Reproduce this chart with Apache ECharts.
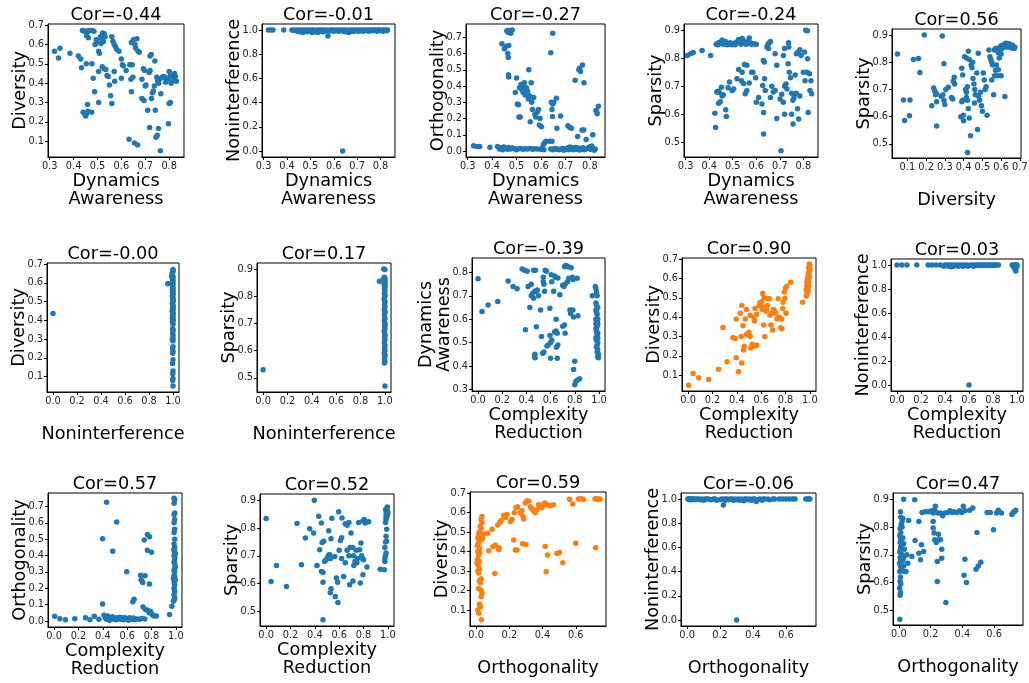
<!DOCTYPE html>
<html>
<head>
<meta charset="utf-8">
<script src="https://cdn.jsdelivr.net/npm/echarts@6/dist/echarts.min.js"></script>
<style>
  html, body { margin: 0; padding: 0; background: #fff; }
  #chart { width: 1029px; height: 683px; }
</style>
</head>
<body>
<div id="chart"></div>
<script>
// 每个子图的相关系数标题
const corLabels = [
  'Cor=-0.44', 'Cor=-0.01', 'Cor=-0.27', 'Cor=-0.24', 'Cor=0.56',
  'Cor=-0.00', 'Cor=0.17', 'Cor=-0.39', 'Cor=0.90', 'Cor=0.03',
  'Cor=0.57', 'Cor=0.52', 'Cor=0.59', 'Cor=-0.06', 'Cor=0.47'
];

const xNames = [
  'Dynamics\nAwareness', 'Dynamics\nAwareness', 'Dynamics\nAwareness', 'Dynamics\nAwareness', '\nDiversity',
  '\nNoninterference', '\nNoninterference', 'Complexity\nReduction', 'Complexity\nReduction', 'Complexity\nReduction',
  'Complexity\nReduction', 'Complexity\nReduction', '\nOrthogonality', '\nOrthogonality', '\nOrthogonality'
];
const yNames = [
  'Diversity', 'Noninterference', 'Orthogonality', 'Sparsity', 'Sparsity',
  'Diversity', 'Sparsity', 'Dynamics\nAwareness', 'Diversity', 'Noninterference',
  'Orthogonality', 'Sparsity', 'Diversity', 'Noninterference', 'Sparsity'
];

// 刻度
const ticksDA = [0.3, 0.4, 0.5, 0.6, 0.7, 0.8];
const ticksDiv = [0.1, 0.2, 0.3, 0.4, 0.5, 0.6, 0.7];
const ticksUnit = [0.0, 0.2, 0.4, 0.6, 0.8, 1.0];
const ticksOrthY = [0.0, 0.1, 0.2, 0.3, 0.4, 0.5, 0.6, 0.7];
const ticksOrthX = [0.0, 0.2, 0.4, 0.6];
const ticksSp = [0.5, 0.6, 0.7, 0.8, 0.9];

// 数据
const daDiv = [[0.32,0.565],[0.337,0.53],[0.343,0.58],[0.385,0.555],[0.42,0.54],[0.43,0.525],[0.433,0.48],[0.437,0.672],[0.445,0.668],[0.452,0.67],[0.458,0.665],[0.465,0.672],[0.455,0.645],[0.462,0.635],[0.453,0.5],[0.44,0.25],[0.447,0.24],[0.45,0.23],[0.455,0.245],[0.46,0.255],[0.452,0.235],[0.458,0.29],[0.476,0.25],[0.477,0.5],[0.482,0.425],[0.488,0.355],[0.478,0.672],[0.485,0.668],[0.49,0.6],[0.495,0.625],[0.498,0.612],[0.505,0.3],[0.505,0.46],[0.505,0.565],[0.508,0.555],[0.512,0.64],[0.518,0.63],[0.522,0.66],[0.528,0.655],[0.515,0.605],[0.525,0.615],[0.532,0.64],[0.52,0.485],[0.528,0.475],[0.535,0.47],[0.54,0.44],[0.545,0.435],[0.55,0.39],[0.555,0.335],[0.56,0.295],[0.56,0.64],[0.565,0.615],[0.57,0.6],[0.575,0.59],[0.58,0.575],[0.57,0.46],[0.572,0.41],[0.59,0.565],[0.6,0.525],[0.604,0.495],[0.608,0.49],[0.6,0.425],[0.62,0.465],[0.635,0.495],[0.645,0.495],[0.632,0.11],[0.64,0.42],[0.648,0.43],[0.642,0.355],[0.655,0.09],[0.668,0.08],[0.642,0.61],[0.65,0.625],[0.657,0.6],[0.66,0.58],[0.67,0.565],[0.675,0.56],[0.665,0.63],[0.686,0.42],[0.692,0.475],[0.697,0.465],[0.686,0.32],[0.695,0.31],[0.7,0.385],[0.703,0.39],[0.71,0.26],[0.72,0.54],[0.725,0.548],[0.72,0.465],[0.716,0.455],[0.718,0.17],[0.726,0.32],[0.73,0.35],[0.734,0.36],[0.738,0.385],[0.74,0.515],[0.742,0.26],[0.745,0.12],[0.75,0.13],[0.755,0.165],[0.763,0.05],[0.748,0.43],[0.752,0.41],[0.756,0.4],[0.76,0.42],[0.765,0.345],[0.77,0.43],[0.775,0.435],[0.782,0.43],[0.79,0.425],[0.797,0.19],[0.8,0.46],[0.805,0.44],[0.8,0.295],[0.805,0.3],[0.808,0.4],[0.813,0.41],[0.818,0.43],[0.822,0.45],[0.826,0.435],[0.83,0.41],[0.795,0.42],[0.785,0.405]];

const daNI = [[0.32,1],[0.331,1],[0.34,1],[0.386,1],[0.421,1],[0.429,0.998],[0.436,1],[0.443,0.99],[0.447,1],[0.452,0.985],[0.458,1],[0.463,0.99],[0.468,0.98],[0.472,1],[0.478,0.995],[0.483,1],[0.487,0.985],[0.493,1],[0.498,0.99],[0.503,1],[0.508,0.98],[0.512,1],[0.517,0.99],[0.523,0.985],[0.527,1],[0.532,0.98],[0.538,1],[0.542,0.99],[0.547,1],[0.553,0.985],[0.558,1],[0.562,0.99],[0.568,1],[0.575,0.95],[0.579,0.99],[0.584,1],[0.589,0.995],[0.594,1],[0.6,0.99],[0.606,1],[0.611,0.995],[0.617,1],[0.622,0.99],[0.628,1],[0.633,0.995],[0.638,0],[0.641,1],[0.646,0.985],[0.652,1],[0.657,0.99],[0.662,0.98],[0.667,1],[0.673,0.985],[0.678,1],[0.684,0.99],[0.689,1],[0.694,0.995],[0.699,1],[0.705,0.99],[0.71,1],[0.716,0.995],[0.721,1],[0.726,0.99],[0.732,1],[0.737,1],[0.742,0.995],[0.748,1],[0.753,0.99],[0.758,1],[0.764,1],[0.769,0.995],[0.774,1],[0.779,1],[0.785,0.99],[0.79,1],[0.795,1],[0.8,0.995],[0.806,1],[0.811,0.99],[0.816,1],[0.821,1],[0.826,0.995],[0.83,1]];

const daOrth = [[0.324,0.033],[0.338,0.028],[0.349,0.027],[0.391,0.023],[0.422,0.027],[0.43,0.012],[0.437,0.02],[0.443,0.008],[0.448,0.025],[0.452,0.015],[0.457,0.018],[0.463,0.01],[0.468,0.022],[0.475,0.012],[0.482,0.018],[0.49,0.015],[0.498,0.008],[0.505,0.012],[0.515,0.015],[0.525,0.01],[0.535,0.014],[0.545,0.012],[0.555,0.016],[0.565,0.01],[0.575,0.014],[0.585,0.012],[0.598,0.01],[0.605,0.018],[0.612,0.008],[0.64,0.012],[0.648,0.008],[0.655,0.015],[0.662,0.01],[0.668,0.012],[0.675,0.008],[0.682,0.012],[0.69,0.015],[0.695,0.005],[0.702,0.01],[0.708,0.018],[0.713,0.008],[0.718,0.025],[0.722,0.012],[0.728,0.02],[0.733,0.008],[0.738,0.015],[0.743,0.022],[0.748,0.01],[0.752,0.018],[0.757,0.006],[0.762,0.015],[0.767,0.01],[0.772,0.02],[0.777,0.008],[0.785,0.012],[0.792,0.018],[0.798,0.025],[0.803,0.01],[0.808,0.03],[0.812,0.015],[0.818,0.005],[0.822,0.012],
  [0.44,0.66],[0.45,0.63],[0.457,0.645],[0.46,0.74],[0.466,0.73],[0.47,0.742],[0.476,0.725],[0.482,0.745],[0.464,0.6],[0.466,0.575],[0.467,0.47],[0.468,0.455],[0.468,0.65],[0.5,0.45],[0.495,0.36],[0.503,0.29],[0.508,0.285],[0.51,0.21],[0.515,0.21],[0.512,0.39],[0.518,0.41],[0.522,0.375],[0.525,0.4],[0.527,0.36],[0.53,0.38],[0.532,0.42],[0.535,0.345],[0.54,0.39],[0.545,0.37],[0.548,0.32],[0.55,0.5],[0.553,0.34],[0.556,0.18],[0.56,0.42],[0.562,0.3],[0.565,0.255],[0.57,0.33],[0.575,0.225],[0.578,0.21],[0.585,0.24],[0.59,0.255],[0.593,0.16],[0.596,0.2],[0.602,0.15],[0.61,0.04],[0.615,0.05],[0.62,0.06],[0.635,0.06],[0.645,0.06],[0.64,0.605],[0.648,0.725],[0.642,0.3],[0.648,0.29],[0.652,0.3],[0.645,0.255],[0.647,0.213],[0.663,0.325],[0.665,0.14],[0.68,0.215],[0.71,0.155],[0.718,0.145],[0.725,0.14],[0.74,0.435],[0.75,0.09],[0.755,0.5],[0.758,0.51],[0.762,0.49],[0.77,0.53],[0.768,0.13],[0.775,0.13],[0.776,0.42],[0.785,0.07],[0.812,0.1],[0.825,0.25],[0.83,0.23],[0.835,0.275],[0.828,0.24]];

const daSp = [[0.307,0.81],[0.321,0.816],[0.332,0.82],[0.37,0.828],[0.406,0.81],
  [0.43,0.85],[0.436,0.848],[0.44,0.855],[0.445,0.852],[0.45,0.858],[0.455,0.865],[0.46,0.85],[0.465,0.855],[0.47,0.86],[0.475,0.848],[0.48,0.852],[0.485,0.85],[0.49,0.855],[0.495,0.848],[0.5,0.85],[0.505,0.853],[0.51,0.848],[0.515,0.855],[0.52,0.86],[0.525,0.867],[0.53,0.858],[0.535,0.85],[0.54,0.87],[0.545,0.862],[0.55,0.855],[0.555,0.85],[0.56,0.858],[0.565,0.852],[0.57,0.872],[0.575,0.855],[0.58,0.85],[0.59,0.852],[0.6,0.85],[0.645,0.84],[0.65,0.85],[0.655,0.855],[0.66,0.86],[0.652,0.835],
  [0.424,0.604],[0.427,0.553],[0.432,0.68],[0.438,0.682],[0.443,0.678],[0.44,0.64],[0.447,0.645],[0.455,0.665],[0.46,0.67],[0.452,0.697],[0.47,0.616],[0.473,0.592],[0.48,0.695],[0.486,0.715],[0.497,0.685],[0.504,0.69],[0.518,0.727],[0.525,0.76],[0.537,0.72],[0.54,0.75],[0.546,0.71],[0.55,0.778],[0.56,0.775],[0.553,0.673],[0.56,0.685],[0.57,0.712],[0.58,0.75],[0.585,0.75],[0.597,0.73],[0.6,0.643],[0.61,0.66],[0.627,0.703],[0.624,0.637],[0.63,0.792],[0.634,0.787],[0.631,0.607],[0.631,0.53],[0.635,0.727],[0.638,0.685],[0.66,0.66],[0.666,0.7],[0.672,0.68],[0.68,0.685],[0.687,0.775],[0.68,0.816],[0.687,0.585],[0.701,0.655],[0.708,0.672],[0.705,0.47],[0.715,0.643],[0.72,0.6],[0.72,0.7],[0.726,0.708],[0.73,0.69],[0.737,0.855],[0.738,0.84],[0.74,0.75],[0.745,0.73],[0.735,0.78],[0.75,0.675],[0.755,0.65],[0.76,0.66],[0.75,0.6],[0.756,0.566],[0.77,0.816],[0.777,0.822],[0.785,0.83],[0.79,0.81],[0.77,0.675],[0.775,0.62],[0.785,0.665],[0.78,0.583],[0.8,0.75],[0.805,0.822],[0.81,0.9],[0.817,0.898],[0.807,0.72],[0.815,0.75],[0.818,0.798],[0.826,0.745],[0.828,0.685],[0.832,0.72],[0.82,0.607],[0.835,0.673],[0.765,0.74],[0.72,0.835],[0.715,0.81]];

const divSp = [[0.047,0.83],[0.079,0.661],[0.085,0.586],[0.111,0.603],[0.114,0.661],[0.132,0.81],[0.159,0.814],[0.167,0.762],[0.19,0.9],[0.286,0.896],[0.295,0.794],[0.23,0.64],[0.24,0.705],[0.245,0.695],[0.25,0.68],[0.255,0.685],[0.256,0.566],[0.256,0.655],[0.28,0.675],[0.29,0.68],[0.295,0.66],[0.3,0.645],[0.305,0.7],[0.318,0.708],[0.335,0.67],[0.342,0.665],[0.345,0.73],[0.35,0.745],[0.352,0.72],[0.39,0.778],[0.395,0.753],[0.39,0.655],[0.395,0.66],[0.385,0.6],[0.398,0.605],[0.4,0.585],[0.405,0.82],[0.415,0.815],[0.425,0.84],[0.43,0.81],[0.41,0.7],[0.415,0.69],[0.42,0.71],[0.415,0.67],[0.42,0.66],[0.425,0.63],[0.43,0.595],[0.437,0.53],[0.421,0.468],[0.44,0.79],[0.445,0.78],[0.448,0.8],[0.45,0.74],[0.455,0.72],[0.46,0.7],[0.462,0.68],[0.458,0.65],[0.474,0.553],[0.478,0.833],[0.47,0.76],[0.48,0.675],[0.485,0.66],[0.49,0.69],[0.495,0.64],[0.5,0.62],[0.505,0.76],[0.51,0.735],[0.515,0.7],[0.52,0.71],[0.525,0.605],[0.535,0.845],[0.54,0.82],[0.545,0.81],[0.55,0.8],[0.555,0.79],[0.55,0.735],[0.56,0.68],[0.565,0.75],[0.57,0.77],[0.575,0.79],[0.58,0.75],[0.585,0.772],[0.6,0.75],[0.565,0.845],[0.57,0.85],[0.58,0.848],[0.585,0.835],[0.59,0.853],[0.595,0.845],[0.6,0.86],[0.605,0.85],[0.61,0.855],[0.615,0.865],[0.62,0.858],[0.625,0.87],[0.63,0.862],[0.635,0.855],[0.64,0.868],[0.645,0.86],[0.65,0.865],[0.655,0.852],[0.66,0.862],[0.665,0.858],[0.67,0.85],[0.673,0.855],[0.62,0.674],[0.59,0.815],[0.6,0.83]];

const niDiv = [[0,0.437],[0.955,0.595],[0.99,0.64],[0.995,0.63],[1,0.672],[0.998,0.66],[0.993,0.65],[1,0.62],[0.997,0.61],[0.99,0.6],[1,0.59],[0.995,0.58],[0.998,0.57],[1,0.56],[0.996,0.55],[1,0.54],[0.994,0.53],[1,0.52],[0.998,0.51],[1,0.5],[0.995,0.49],[1,0.48],[0.997,0.47],[1,0.46],[0.993,0.45],[1,0.44],[0.998,0.43],[1,0.42],[0.995,0.41],[1,0.4],[0.997,0.39],[1,0.38],[0.996,0.355],[1,0.345],[0.998,0.33],[1,0.32],[0.995,0.3],[1,0.29],[1,0.26],[0.997,0.25],[1,0.235],[0.998,0.225],[1,0.19],[0.996,0.17],[1,0.13],[0.998,0.115],[1,0.09],[0.997,0.08],[1,0.05],[1,0.665],[0.996,0.655],[1,0.635],[0.994,0.625],[1,0.605],[0.999,0.575],[0.995,0.565],[1,0.545],[0.997,0.525],[1,0.505],[0.996,0.495],[1,0.475],[0.998,0.455],[1,0.435],[0.997,0.415],[1,0.405],[0.996,0.395],[1,0.35],[0.999,0.305]];

const niSp = [[0,0.53],[0.955,0.855],[0.99,0.9],[1,0.898],[0.995,0.87],[1,0.865],[0.997,0.86],[1,0.85],[0.993,0.845],[1,0.84],[0.998,0.83],[1,0.82],[0.996,0.81],[1,0.8],[0.994,0.79],[1,0.78],[0.998,0.77],[1,0.76],[0.995,0.75],[1,0.74],[0.997,0.73],[1,0.72],[0.996,0.71],[1,0.7],[0.998,0.69],[1,0.68],[0.995,0.67],[1,0.66],[0.997,0.65],[1,0.64],[0.996,0.63],[1,0.62],[0.998,0.61],[1,0.6],[0.995,0.59],[1,0.58],[0.997,0.57],[1,0.56],[0.996,0.555],[1,0.47],[0.99,0.855],[0.985,0.86],[1,0.855],[0.998,0.848],[1,0.835],[0.996,0.825],[1,0.805],[0.997,0.785],[1,0.745],[0.998,0.715],[1,0.695],[0.996,0.675],[1,0.655],[0.997,0.605],[1,0.585]];

const crDA = [[0,0.773],[0.033,0.633],[0.083,0.661],[0.163,0.676],[0.249,0.764],[0.29,0.74],[0.323,0.73],[0.365,0.815],[0.385,0.81],[0.406,0.805],[0.392,0.555],[0.414,0.74],[0.428,0.65],[0.44,0.75],[0.44,0.7],[0.452,0.71],[0.46,0.69],[0.46,0.81],[0.475,0.81],[0.467,0.44],[0.47,0.45],[0.472,0.435],[0.483,0.568],[0.48,0.72],[0.49,0.725],[0.5,0.7],[0.47,0.72],[0.517,0.64],[0.525,0.526],[0.54,0.78],[0.545,0.75],[0.54,0.76],[0.535,0.455],[0.545,0.46],[0.555,0.81],[0.565,0.805],[0.55,0.72],[0.57,0.485],[0.58,0.49],[0.595,0.53],[0.6,0.5],[0.61,0.51],[0.594,0.647],[0.6,0.433],[0.605,0.79],[0.61,0.76],[0.625,0.72],[0.633,0.785],[0.64,0.78],[0.633,0.545],[0.645,0.55],[0.655,0.54],[0.648,0.48],[0.66,0.49],[0.655,0.433],[0.66,0.776],[0.646,0.6],[0.677,0.705],[0.7,0.745],[0.71,0.74],[0.72,0.75],[0.7,0.57],[0.715,0.575],[0.72,0.54],[0.715,0.825],[0.725,0.83],[0.735,0.828],[0.745,0.825],[0.74,0.76],[0.75,0.775],[0.76,0.64],[0.765,0.625],[0.77,0.82],[0.78,0.78],[0.785,0.77],[0.785,0.64],[0.79,0.61],[0.8,0.42],[0.79,0.385],[0.8,0.32],[0.81,0.335],[0.825,0.34],[0.84,0.345],[0.826,0.615],[0.82,0.775],[0.945,0.7],
  [0.97,0.74],[0.975,0.73],[0.98,0.715],[0.985,0.7],[0.975,0.67],[0.98,0.66],[0.99,0.65],[0.975,0.64],[0.98,0.63],[0.985,0.62],[0.975,0.6],[0.98,0.59],[0.99,0.58],[0.985,0.57],[0.975,0.56],[0.98,0.55],[0.99,0.54],[0.985,0.53],[0.975,0.52],[0.98,0.51],[0.99,0.5],[0.985,0.49],[0.98,0.48],[0.99,0.47],[0.985,0.46],[0.995,0.45],[0.99,0.44],[0.995,0.435],[0.98,0.545],[0.985,0.595],[0.99,0.6],[0.975,0.58],[0.99,0.52]];

const crDiv = [[0.005,0.048],[0.041,0.108],[0.087,0.086],[0.169,0.077],[0.25,0.131],[0.286,0.347],[0.32,0.169],[0.368,0.293],[0.387,0.29],[0.395,0.39],[0.395,0.19],[0.414,0.117],[0.428,0.42],[0.436,0.3],[0.441,0.46],[0.441,0.163],[0.45,0.356],[0.455,0.23],[0.46,0.25],[0.47,0.39],[0.48,0.44],[0.48,0.31],[0.49,0.315],[0.5,0.32],[0.51,0.3],[0.51,0.41],[0.515,0.24],[0.525,0.26],[0.537,0.25],[0.54,0.395],[0.545,0.38],[0.55,0.445],[0.564,0.415],[0.564,0.255],[0.585,0.46],[0.59,0.475],[0.6,0.46],[0.605,0.48],[0.61,0.44],[0.62,0.45],[0.613,0.523],[0.624,0.5],[0.62,0.36],[0.63,0.3],[0.64,0.43],[0.645,0.44],[0.65,0.46],[0.655,0.495],[0.668,0.495],[0.672,0.41],[0.687,0.42],[0.68,0.36],[0.695,0.333],[0.7,0.44],[0.71,0.43],[0.72,0.42],[0.73,0.39],[0.75,0.4],[0.74,0.495],[0.76,0.345],[0.77,0.34],[0.777,0.445],[0.768,0.39],[0.78,0.477],[0.795,0.498],[0.804,0.42],[0.79,0.53],[0.8,0.55],[0.81,0.56],[0.842,0.58],[0.94,0.477],
  [0.97,0.51],[0.975,0.52],[0.98,0.53],[0.97,0.54],[0.985,0.55],[0.975,0.56],[0.98,0.57],[0.99,0.58],[0.985,0.59],[0.99,0.6],[0.995,0.61],[0.985,0.62],[0.99,0.63],[0.995,0.64],[1,0.65],[0.99,0.655],[0.995,0.66],[1,0.67],[0.995,0.675],[0.98,0.6],[0.975,0.58],[0.99,0.62],[1,0.645],[0.985,0.535],[0.99,0.565]];

const crNI = [[0,1],[0.04,1],[0.083,1],[0.165,1],[0.26,1],[0.29,1],[0.325,1],[0.36,1],[0.39,0.99],[0.4,1],[0.41,0.995],[0.42,1],[0.43,0.99],[0.44,1],[0.45,0.985],[0.46,1],[0.47,0.99],[0.48,1],[0.49,0.995],[0.5,1],[0.51,0.99],[0.52,1],[0.53,0.995],[0.54,1],[0.55,0.99],[0.56,1],[0.57,0.995],[0.58,1],[0.59,0.99],[0.6,0],[0.61,1],[0.62,0.995],[0.63,1],[0.64,0.99],[0.65,1],[0.66,0.995],[0.67,1],[0.68,1],[0.69,0.995],[0.7,1],[0.71,1],[0.72,0.995],[0.73,1],[0.74,1],[0.75,0.995],[0.76,1],[0.77,1],[0.78,1],[0.79,0.995],[0.8,1],[0.81,1],[0.82,1],[0.83,1],[0.845,1],[0.96,1],[0.97,0.99],[0.975,1],[0.98,0.975],[0.985,0.96],[0.99,0.95],[0.99,0.98],[0.995,1],[1,0.99],[1,1],[0.985,1],[0.99,0.97],[0.995,0.985]];

const crOrth = [[0.005,0.029],[0.047,0.014],[0.093,0.008],[0.17,0.014],[0.258,0.019],[0.294,0.008],[0.33,0.029],[0.368,0.01],[0.398,0.502],[0.398,0.103],[0.41,0.035],[0.431,0.725],[0.481,0.426],[0.514,0.605],[0.596,0.3],[0.646,0.117],[0.657,0.132],[0.71,0.28],[0.715,0.25],[0.728,0.235],[0.747,0.276],[0.74,0.494],[0.766,0.529],[0.783,0.515],[0.766,0.432],[0.8,0.42],[0.783,0.226],[0.73,0.085],[0.75,0.07],[0.765,0.065],[0.78,0.05],[0.79,0.06],[0.8,0.045],[0.81,0.035],[0.82,0.03],[0.84,0.03],[0.948,0.04],[0.967,0.09],
  [0.42,0.02],[0.43,0.01],[0.44,0.03],[0.45,0.015],[0.455,0.005],[0.46,0.02],[0.47,0.01],[0.48,0.025],[0.49,0.012],[0.5,0.018],[0.51,0.008],[0.52,0.02],[0.53,0.012],[0.54,0.022],[0.55,0.01],[0.56,0.018],[0.57,0.008],[0.58,0.02],[0.59,0.012],[0.6,0.015],[0.61,0.005],[0.62,0.02],[0.63,0.012],[0.64,0.01],[0.65,0.018],[0.66,0.008],[0.68,0.012],[0.7,0.01],[0.72,0.015],[0.745,0.012],
  [0.985,0.75],[0.99,0.74],[0.985,0.72],[0.99,0.66],[0.985,0.65],[0.99,0.62],[0.985,0.6],[0.99,0.56],[0.985,0.54],[0.99,0.5],[0.985,0.47],[0.99,0.45],[0.985,0.43],[0.99,0.42],[0.995,0.41],[0.985,0.4],[0.99,0.38],[0.985,0.36],[0.99,0.35],[0.995,0.33],[0.985,0.31],[0.99,0.3],[0.985,0.28],[0.99,0.27],[0.995,0.25],[0.985,0.24],[0.99,0.22],[0.985,0.2],[0.99,0.18],[0.985,0.16],[0.99,0.14],[0.985,0.13],[0.98,0.12],[0.99,0.39],[0.985,0.44],[0.99,0.32],[0.98,0.26]];

const crSp = [[0,0.834],[0.041,0.608],[0.085,0.665],[0.167,0.59],[0.254,0.816],[0.29,0.668],[0.322,0.764],[0.358,0.797],[0.39,0.782],[0.396,0.9],[0.418,0.665],[0.432,0.842],[0.44,0.722],[0.454,0.644],[0.467,0.64],[0.454,0.818],[0.467,0.605],[0.467,0.47],[0.46,0.748],[0.473,0.752],[0.48,0.68],[0.49,0.685],[0.5,0.69],[0.514,0.79],[0.51,0.7],[0.52,0.705],[0.53,0.69],[0.533,0.761],[0.54,0.835],[0.527,0.567],[0.533,0.582],[0.563,0.698],[0.568,0.554],[0.577,0.62],[0.587,0.605],[0.596,0.858],[0.6,0.72],[0.61,0.755],[0.62,0.765],[0.59,0.532],[0.623,0.836],[0.637,0.626],[0.65,0.815],[0.665,0.81],[0.68,0.82],[0.65,0.675],[0.665,0.72],[0.68,0.7],[0.686,0.596],[0.69,0.73],[0.697,0.782],[0.713,0.61],[0.718,0.7],[0.73,0.68],[0.745,0.675],[0.75,0.69],[0.76,0.82],[0.768,0.722],[0.773,0.602],[0.779,0.746],[0.785,0.7],[0.79,0.69],[0.795,0.825],[0.806,0.83],[0.814,0.818],[0.795,0.632],[0.8,0.686],[0.828,0.66],[0.842,0.822],[0.937,0.652],[0.74,0.72],[0.72,0.665],[0.71,0.73],[0.62,0.69],
  [0.97,0.65],[0.975,0.69],[0.98,0.7],[0.985,0.71],[0.975,0.73],[0.98,0.75],[0.99,0.752],[0.985,0.77],[0.99,0.795],[0.98,0.82],[0.985,0.83],[0.99,0.84],[0.995,0.845],[0.985,0.85],[0.99,0.855],[0.995,0.86],[0.98,0.865],[0.99,0.87],[0.995,0.875],[1,0.855],[0.985,0.84],[0.99,0.865],[0.975,0.68]];

const orthDiv = [[0.016,0.083],[0.026,0.117],[0.032,0.05],[0.03,0.168],[0.036,0.185],[0.03,0.2],[0.02,0.25],[0.025,0.24],[0.03,0.26],[0.015,0.29],[0.01,0.3],[0.02,0.31],[0.012,0.33],[0.018,0.35],[0.008,0.36],[0.015,0.38],[0.01,0.4],[0.02,0.42],[0.012,0.44],[0.018,0.45],[0.01,0.47],[0.025,0.48],[0.015,0.49],[0.02,0.5],[0.03,0.52],[0.025,0.53],[0.035,0.55],[0.03,0.565],[0.035,0.58],[0.04,0.47],[0.045,0.49],[0.01,0.1],[0.02,0.13],[0.015,0.21],[0.005,0.34],[0.022,0.395],[0.008,0.43],[0.03,0.46],
  [0.07,0.494],[0.076,0.405],[0.096,0.515],[0.102,0.426],[0.112,0.288],[0.116,0.434],[0.136,0.41],[0.138,0.42],[0.13,0.537],[0.142,0.55],[0.15,0.56],[0.166,0.585],[0.176,0.575],[0.186,0.59],[0.206,0.555],[0.216,0.565],[0.226,0.46],[0.236,0.408],[0.246,0.408],[0.23,0.6],[0.24,0.625],[0.25,0.63],[0.266,0.6],[0.276,0.61],[0.282,0.58],[0.28,0.44],[0.3,0.437],[0.286,0.568],[0.296,0.65],[0.306,0.66],[0.316,0.66],[0.326,0.63],[0.336,0.62],[0.346,0.61],[0.356,0.6],[0.366,0.615],[0.376,0.64],[0.386,0.635],[0.396,0.625],[0.406,0.645],[0.416,0.65],[0.426,0.64],[0.416,0.426],[0.422,0.297],[0.43,0.383],[0.446,0.635],[0.466,0.64],[0.486,0.39],[0.502,0.395],[0.522,0.343],[0.562,0.669],[0.582,0.645],[0.6,0.443],[0.616,0.67],[0.632,0.672],[0.646,0.668],[0.716,0.67],[0.726,0.672],[0.736,0.668],[0.746,0.67],[0.72,0.42]];

const orthNI = [[0.005,1],[0.01,1],[0.015,0.995],[0.02,1],[0.025,1],[0.03,0.995],[0.035,1],[0.04,1],[0.05,0.995],[0.06,1],[0.07,1],[0.08,0.995],[0.1,0.99],[0.11,1],[0.13,1],[0.145,0.995],[0.16,1],[0.18,0.99],[0.2,0.995],[0.21,1],[0.22,0.95],[0.225,1],[0.24,1],[0.25,0.995],[0.26,1],[0.27,1],[0.28,0.99],[0.3,0],[0.3,0.995],[0.31,1],[0.32,0.99],[0.33,1],[0.345,0.985],[0.36,1],[0.37,0.995],[0.38,1],[0.39,0.99],[0.41,1],[0.42,0.98],[0.43,0.995],[0.44,1],[0.455,0.99],[0.47,1],[0.49,1],[0.5,0.995],[0.52,1],[0.53,1],[0.56,1],[0.58,1],[0.6,1],[0.62,1],[0.64,1],[0.655,1],[0.72,1],[0.73,1],[0.74,1],[0.745,1],[0.015,1],[0.045,1],[0.09,1],[0.12,1],[0.17,1],[0.23,0.99],[0.29,1],[0.35,1],[0.4,1],[0.46,1]];

const orthSp = [[0.006,0.469],[0.008,0.555],[0.01,0.565],[0.005,0.58],[0.012,0.595],[0.008,0.605],[0.01,0.62],[0.006,0.64],[0.015,0.65],[0.01,0.66],[0.005,0.67],[0.012,0.68],[0.008,0.69],[0.015,0.7],[0.006,0.71],[0.01,0.72],[0.012,0.73],[0.008,0.745],[0.015,0.75],[0.01,0.76],[0.006,0.77],[0.012,0.78],[0.008,0.795],[0.015,0.81],[0.02,0.82],[0.025,0.83],[0.012,0.835],[0.01,0.855],[0.02,0.8],[0.025,0.76],[0.03,0.74],[0.02,0.7],[0.025,0.68],[0.03,0.66],[0.02,0.645],[0.035,0.64],[0.03,0.69],[0.035,0.72],
  [0.03,0.9],[0.1,0.898],[0.062,0.823],[0.05,0.7],[0.056,0.67],[0.082,0.694],[0.045,0.64],[0.102,0.751],[0.126,0.82],[0.126,0.706],[0.136,0.682],[0.142,0.736],[0.156,0.712],[0.146,0.852],[0.166,0.855],[0.186,0.855],[0.206,0.858],[0.216,0.85],[0.226,0.86],[0.216,0.82],[0.216,0.796],[0.222,0.778],[0.226,0.754],[0.23,0.874],[0.236,0.744],[0.242,0.676],[0.246,0.85],[0.262,0.85],[0.25,0.754],[0.262,0.754],[0.25,0.774],[0.242,0.604],[0.27,0.72],[0.27,0.688],[0.276,0.84],[0.29,0.85],[0.306,0.852],[0.322,0.858],[0.336,0.852],[0.346,0.855],[0.366,0.852],[0.382,0.858],[0.396,0.852],[0.296,0.529],[0.406,0.874],[0.416,0.858],[0.446,0.86],[0.466,0.868],[0.416,0.684],[0.41,0.627],[0.426,0.601],[0.486,0.648],[0.5,0.66],[0.516,0.673],[0.492,0.78],[0.556,0.852],[0.576,0.852],[0.596,0.79],[0.616,0.85],[0.626,0.86],[0.646,0.85],[0.712,0.845],[0.72,0.852],[0.728,0.855],[0.736,0.86]];

// 布局与样式
const FONT = 'DejaVu Sans';
const BLUE = '#1f77b4';
const ORANGE = '#ff7f0e';

const ranges = {
  da: [0.293, 0.862],
  div: [0.018, 0.706],
  ni: [-0.05, 1.05],
  orth: [-0.037, 0.782],
  sp: [0.448, 0.922],
  cr: [-0.05, 1.05]
};

const panels = [
  { x: 'da', y: 'div', data: daDiv, xt: ticksDA, yt: ticksDiv, color: BLUE },
  { x: 'da', y: 'ni', data: daNI, xt: ticksDA, yt: ticksUnit, color: BLUE },
  { x: 'da', y: 'orth', data: daOrth, xt: ticksDA, yt: ticksOrthY, color: BLUE },
  { x: 'da', y: 'sp', data: daSp, xt: ticksDA, yt: ticksSp, color: BLUE },
  { x: 'div', y: 'sp', data: divSp, xt: ticksDiv, yt: ticksSp, color: BLUE },
  { x: 'ni', y: 'div', data: niDiv, xt: ticksUnit, yt: ticksDiv, color: BLUE },
  { x: 'ni', y: 'sp', data: niSp, xt: ticksUnit, yt: ticksSp, color: BLUE },
  { x: 'cr', y: 'da', data: crDA, xt: ticksUnit, yt: ticksDA, color: BLUE },
  { x: 'cr', y: 'div', data: crDiv, xt: ticksUnit, yt: ticksDiv, color: ORANGE },
  { x: 'cr', y: 'ni', data: crNI, xt: ticksUnit, yt: ticksUnit, color: BLUE },
  { x: 'cr', y: 'orth', data: crOrth, xt: ticksUnit, yt: ticksOrthY, color: BLUE },
  { x: 'cr', y: 'sp', data: crSp, xt: ticksUnit, yt: ticksSp, color: BLUE },
  { x: 'orth', y: 'div', data: orthDiv, xt: ticksOrthX, yt: ticksDiv, color: ORANGE },
  { x: 'orth', y: 'ni', data: orthNI, xt: ticksOrthX, yt: ticksUnit, color: BLUE },
  { x: 'orth', y: 'sp', data: orthSp, xt: ticksOrthX, yt: ticksSp, color: BLUE }
];

// 绘图区 [left, top, right, bottom]
const boxes = [
  [48, 24, 184, 157], [262, 24, 395, 157], [466, 24, 605, 157], [684, 24, 818, 157], [892, 29, 1021, 158],
  [47, 263, 179, 392], [257, 263, 391, 392], [472, 258, 605, 391], [682, 258, 816, 391], [891, 259, 1023, 391],
  [48, 493, 182, 627], [260, 494, 394, 626], [470, 492, 606, 626], [681, 493, 816, 626], [893, 493, 1023, 625]
];

function makeAxis(dim, i, key, name, ticks) {
  const r = ranges[key];
  return {
    type: 'value',
    gridIndex: i,
    min: r[0],
    max: r[1],
    name: name,
    nameLocation: 'middle',
    nameGap: dim === 'x' ? 15 : 18,
    nameMoveOverlap: dim === 'x',
    nameTextStyle: { fontFamily: FONT, fontSize: 17.7, color: '#000', lineHeight: 18.5 },
    axisLine: { show: true, onZero: false, lineStyle: { color: '#000', width: 1 } },
    axisTick: { show: true, length: 3, customValues: ticks, lineStyle: { color: '#000', width: 1 } },
    axisLabel: {
      customValues: ticks,
      formatter: v => v.toFixed(1),
      fontFamily: FONT, fontSize: 9.8, color: '#222', margin: 4, hideOverlap: false
    },
    splitLine: { show: false }
  };
}

const grid = [], xAxis = [], yAxis = [], series = [], graphic = [];
panels.forEach((p, i) => {
  const [l, t, r, b] = boxes[i];
  grid.push({
    left: l, top: t, width: r - l, height: b - t,
    show: true, borderColor: '#000', borderWidth: 1, backgroundColor: 'transparent',
    containLabel: false, outerBoundsMode: 'none'
  });
  xAxis.push(makeAxis('x', i, p.x, xNames[i], p.xt));
  yAxis.push(makeAxis('y', i, p.y, yNames[i], p.yt));
  series.push({
    type: 'scatter',
    xAxisIndex: i,
    yAxisIndex: i,
    data: p.data,
    symbolSize: 5.5,
    itemStyle: { color: p.color, opacity: 1 },
    silent: true
  });
  graphic.push({
    type: 'text',
    x: (l + r) / 2,
    y: t - 8.3,
    style: {
      text: corLabels[i],
      font: '17.7px "DejaVu Sans"',
      fill: '#000',
      textAlign: 'center',
      textVerticalAlign: 'middle'
    }
  });
});

const chart = echarts.init(document.getElementById('chart'), null, { renderer: 'canvas' });
chart.setOption({
  backgroundColor: '#fff',
  animation: false,
  grid, xAxis, yAxis, series, graphic
});
</script>
</body>
</html>
